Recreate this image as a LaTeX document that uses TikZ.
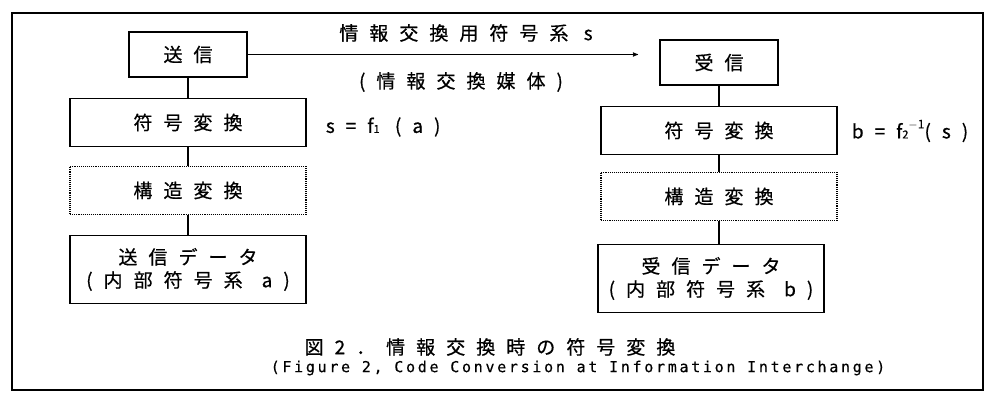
\documentclass[tikz,border=0pt]{standalone}
\usepackage{fontspec}
\usetikzlibrary{arrows}
\newfontfamily\jpfont[LetterSpace=58,FakeBold=0.6]{Noto Sans CJK JP}
\newfontfamily\capfont[LetterSpace=18,FakeBold=0.4]{DejaVu Sans Mono}

\begin{document}
\begin{tikzpicture}[x=1pt,y=-1pt,line width=1.1pt,>=stealth',node distance=68pt,
                    font=\jpfont\fontsize{19}{23}\selectfont,
                    box/.style={draw,minimum width=236pt,minimum height=48pt,inner sep=0pt},
                    smallbox/.style={box,minimum width=118pt,minimum height=45pt},
                    dotbox/.style={box,densely dotted},
                    databox/.style={box,minimum height=68pt,align=center}]

  \useasboundingbox (0,0) rectangle (989,403);
  \draw[line width=1.4pt] (12,13) rectangle (983,390);

  % sending side
  \node[smallbox] (send)            at (188,54.5) {送信};
  \node[box]      (enc1)    [below of=send]       {符号変換};
  \node[dotbox]   (struct1) [below of=enc1]       {構造変換};
  \node[databox]  (data1)   [below of=struct1, node distance=79pt]
                  {送信データ\\(内部符号系\quad a)};
  \path (send) edge (enc1);
  \path (enc1) edge (struct1);
  \path (struct1) edge (data1);

  % receiving side
  \node[smallbox] (recv)            at (719,62.5) {受信};
  \node[box]      (enc2)    [below of=recv]       {符号変換};
  \node[dotbox]   (struct2) [below of=enc2, node distance=66pt] {構造変換};
  \node[databox, minimum width=226pt, xshift=-8pt] (data2)
                  [below of=struct2, node distance=82pt]
                  {受信データ\\(内部符号系\quad b)};
  \path (recv) edge (enc2);
  \path (enc2) edge (struct2);
  \draw (struct2.south) -- (struct2.south |- data2.north);

  % interchange
  \coordinate (arrend) at (638,54.5);
  \draw[->,line width=0.9pt] (send.east) -- (arrend);
  \node (medium) at (466,33) {情報交換用符号系 s};
  \node (media)  at (461,82) {(情報交換媒体)};

  \node[anchor=west] (f1) at (322,127) {s=f{\fontsize{11}{11}\selectfont 1} (a)};
  \node[anchor=west] (f2) at (848,131)
       {b=f{\fontsize{11}{11}\selectfont 2}\raisebox{10pt}{\fontsize{12}{12}\selectfont $-$1}(s)};

  % caption
  \node (capjp) at (490,347) {図2．情報交換時の符号変換};
  \node[font=\capfont\fontsize{15}{18}\selectfont] (capen) at (578,368)
       {(Figure 2, Code Conversion at Information Interchange)};

\end{tikzpicture}
\end{document}
